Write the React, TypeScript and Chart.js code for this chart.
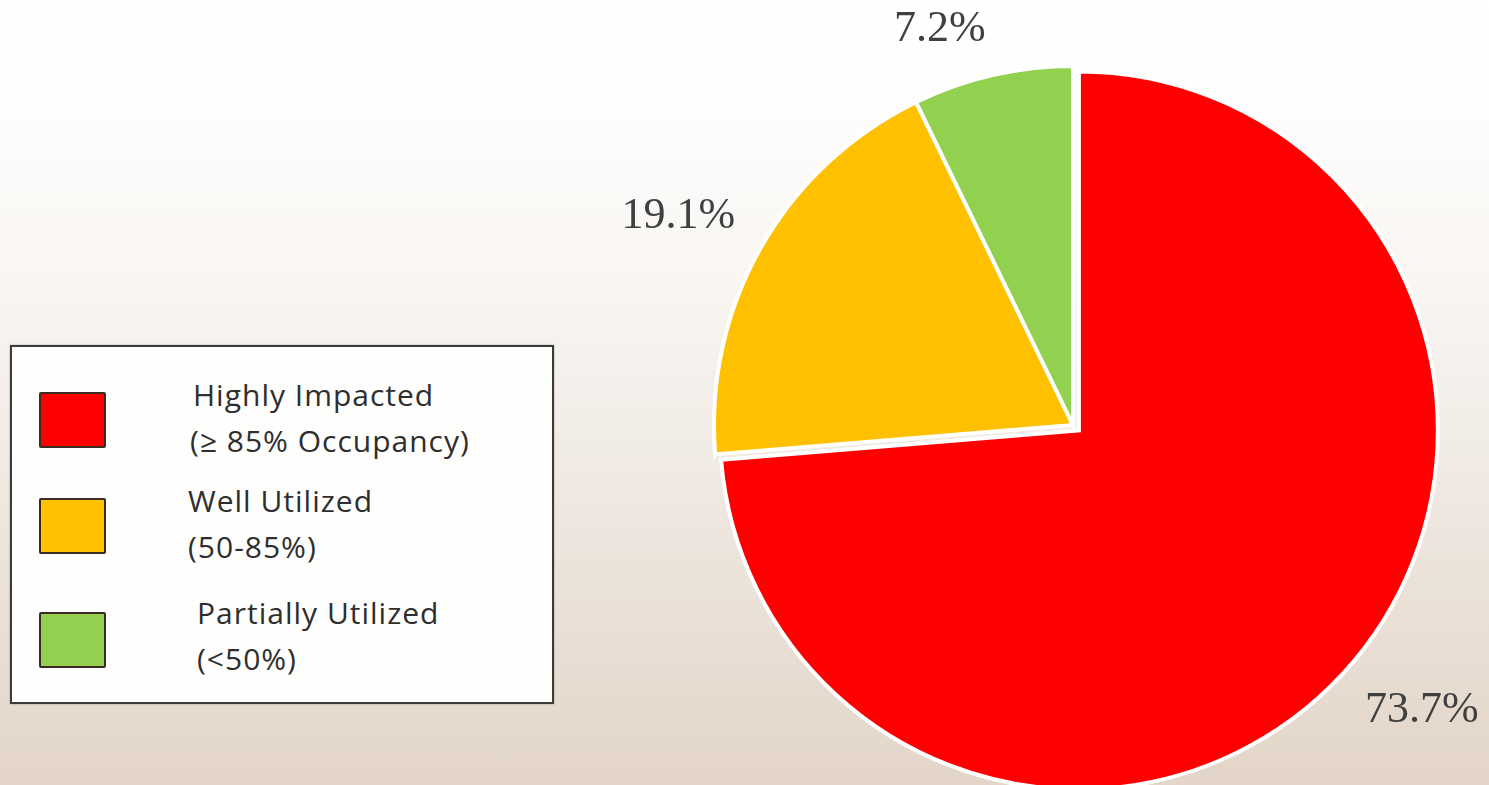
import React, { useEffect, useRef } from "react";
import { Chart, registerables } from "chart.js";

Chart.register(...registerables);

const categories = ["Highly Impacted", "Well Utilized", "Partially Utilized"];
const subLabels = ["(\u2265 85% Occupancy)", "(50-85%)", "(<50%)"];
const shares = [73.7, 19.1, 7.2];
const valueLabels = ["73.7%", "19.1%", "7.2%"];
const colors = ["#ff0000", "#ffc000", "#92d050"];
const explode = [8, 0, 0];

function arcProps(arc: any) {
  return arc.getProps(["startAngle", "endAngle", "outerRadius", "x", "y"], true);
}

const explodePlugin = {
  id: "explodeSlices",
  beforeDatasetDraw(chart: any, args: any) {
    if (args.index !== 0) return;
    const ctx = chart.ctx;
    const meta = chart.getDatasetMeta(0);
    meta.data.forEach((arc: any, i: number) => {
      const { startAngle, endAngle } = arcProps(arc);
      const mid = (startAngle + endAngle) / 2;
      const off = explode[i] || 0;
      ctx.save();
      ctx.translate(Math.cos(mid) * off, Math.sin(mid) * off);
      arc.draw(ctx, chart.chartArea);
      ctx.restore();
    });
    return false;
  },
};

const labelPlugin = {
  id: "outsideLabels",
  afterDatasetsDraw(chart: any) {
    const ctx = chart.ctx;
    const meta = chart.getDatasetMeta(0);
    ctx.save();
    ctx.font = '44px "Liberation Serif", "Times New Roman", serif';
    ctx.fillStyle = "#404040";
    ctx.textAlign = "center";
    ctx.textBaseline = "middle";
    meta.data.forEach((arc: any, i: number) => {
      const { startAngle, endAngle, outerRadius, x, y } = arcProps(arc);
      const mid = (startAngle + endAngle) / 2;
      const off = explode[i] || 0;
      const dx = Math.cos(mid);
      const dy = Math.sin(mid);
      const cx = x + dx * off;
      const cy = y + dy * off;
      const text = valueLabels[i];
      const w = ctx.measureText(text).width;
      const h = 32;
      const r = outerRadius + 30;
      const tx = cx + dx * r + Math.sign(dx) * (w / 2);
      const ty = cy + dy * r + Math.sign(dy) * (h / 2);
      ctx.fillText(text, tx, ty);
    });
    ctx.restore();
  },
};

export default function App() {
  const ref = useRef<HTMLCanvasElement | null>(null);

  useEffect(() => {
    document.body.style.margin = "0";
    const canvas = ref.current;
    if (!canvas) return;
    const chart = new Chart(canvas, {
      type: "pie",
      data: {
        labels: categories,
        datasets: [
          {
            data: shares,
            backgroundColor: colors,
            borderColor: "#ffffff",
            borderWidth: 4,
            borderJoinStyle: "miter",
            hoverOffset: 0,
          } as any,
        ],
      },
      options: {
        animation: false,
        responsive: false,
        events: [],
        radius: 359,
        layout: { padding: { left: 657, right: 0, top: 65, bottom: 0 } },
        plugins: {
          legend: { display: false },
          tooltip: { enabled: false },
        },
      } as any,
      plugins: [explodePlugin, labelPlugin],
    });
    return () => chart.destroy();
  }, []);

  const rowTops = [372, 478, 590];
  const swatchTops = [392, 498, 612];
  const textLefts = [193, 188, 197];

  return (
    <div
      style={{
        position: "fixed",
        left: 0,
        top: 0,
        width: 1489,
        height: 785,
        overflow: "hidden",
        background:
          "linear-gradient(to bottom, #ffffff 0%, #fefefd 12%, #f9f6f3 35%, #f1ebe5 58%, #e9dfd5 80%, #e3d6c8 100%)",
      }}
    >
      <div
        style={{
          position: "absolute",
          left: 10,
          top: 345,
          width: 540,
          height: 355,
          border: "2px solid #3a3a3a",
          background: "#fefefd",
          boxShadow: "0 0 2px rgba(0,0,0,0.3)",
        }}
      />
      {categories.map((c, i) => (
        <React.Fragment key={c}>
          <div
            style={{
              position: "absolute",
              left: 39,
              top: swatchTops[i],
              width: 63,
              height: 52,
              background: colors[i],
              border: "2px solid #3a2a20",
              borderRadius: 2,
            }}
          />
          <div
            style={{
              position: "absolute",
              left: textLefts[i],
              top: rowTops[i],
              fontFamily: "'Open Sans', Lato, sans-serif",
              fontSize: 30,
              letterSpacing: 1,
              lineHeight: "46px",
              color: "#2e2e2e",
              whiteSpace: "nowrap",
            }}
          >
            <div>{c}</div>
            <div style={{ marginLeft: i === 0 ? -3 : 0 }}>{subLabels[i]}</div>
          </div>
        </React.Fragment>
      ))}
      <canvas
        ref={ref}
        width={1489}
        height={785}
        style={{ position: "absolute", left: 0, top: 0, width: 1489, height: 785 }}
      />
    </div>
  );
}
